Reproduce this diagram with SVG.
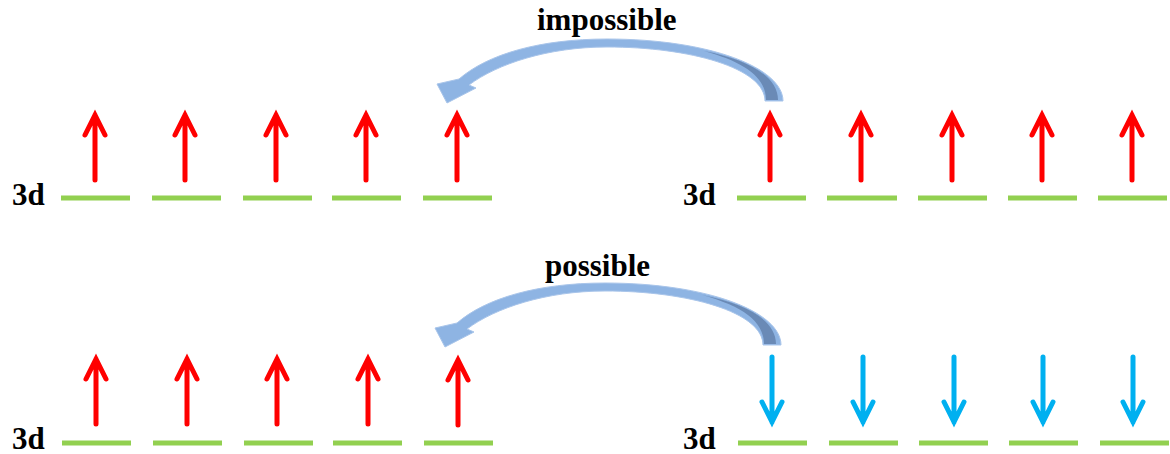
<svg xmlns="http://www.w3.org/2000/svg" xmlns:xlink="http://www.w3.org/1999/xlink" width="1170" height="454" viewBox="0 0 1170 454">
<style>
.lvl{stroke:#92D050;stroke-width:5;fill:none}
.up{stroke:#FF0000;stroke-width:5;fill:none;stroke-linecap:round;stroke-linejoin:miter}
.dn{stroke:#00B0F0;stroke-width:5;fill:none;stroke-linecap:round;stroke-linejoin:miter}
.lbl{font-family:"Liberation Serif","Times New Roman",serif;font-weight:bold;font-size:31px;fill:#000}
.cv{fill:#8EB4E3;stroke:#A9C5EA;stroke-width:1}
.cvd{fill:#6A8AB6}
</style>
<defs>
<path id="upA" d="M0,67 V2 M-10,22 L0,2 L10,22"/>
<path id="dnA" d="M0,0 V65 M-10,45 L0,65 L10,45"/>
<g id="curve">
<path class="cv" d="M783,101 C783,68 710,39 607,39 C540,39 488,54 459,79 L437,84 L447,103 L476,88 L469,85 C497,64 548,47 607,47 C690,47 765,68 765,101 Z"/>
<path class="cvd" d="M766,100 L778,100 C778,77 750,60 704,51 C744,62 766,77 766,100 Z"/>
</g>
</defs>

<g id="connectors">
<use xlink:href="#curve"/>
<use xlink:href="#curve" transform="translate(-2,244)"/>
</g>

<g id="label-impossible"><text class="lbl" x="537" y="30">impossible</text></g>
<g id="label-possible"><text class="lbl" x="545" y="276">possible</text></g>

<g id="label-3d-tl"><text class="lbl" x="12" y="205">3d</text></g>
<g id="label-3d-tr"><text class="lbl" x="683" y="205">3d</text></g>
<g id="label-3d-bl"><text class="lbl" x="12" y="449">3d</text></g>
<g id="label-3d-br"><text class="lbl" x="683" y="449">3d</text></g>

<!-- top left -->
<g id="tl1"><line class="lvl" x1="61" y1="198" x2="130" y2="198"/><use xlink:href="#upA" class="up" x="95" y="113"/></g>
<g id="tl2"><line class="lvl" x1="152" y1="198" x2="221" y2="198"/><use xlink:href="#upA" class="up" x="185" y="113"/></g>
<g id="tl3"><line class="lvl" x1="243" y1="198" x2="312" y2="198"/><use xlink:href="#upA" class="up" x="276" y="113"/></g>
<g id="tl4"><line class="lvl" x1="332" y1="198" x2="401" y2="198"/><use xlink:href="#upA" class="up" x="366" y="113"/></g>
<g id="tl5"><line class="lvl" x1="423" y1="198" x2="492" y2="198"/><use xlink:href="#upA" class="up" x="457" y="113"/></g>
<!-- top right -->
<g id="tr1"><line class="lvl" x1="737" y1="198" x2="806" y2="198"/><use xlink:href="#upA" class="up" x="770" y="113"/></g>
<g id="tr2"><line class="lvl" x1="827" y1="198" x2="897" y2="198"/><use xlink:href="#upA" class="up" x="861" y="113"/></g>
<g id="tr3"><line class="lvl" x1="918" y1="198" x2="987" y2="198"/><use xlink:href="#upA" class="up" x="952" y="113"/></g>
<g id="tr4"><line class="lvl" x1="1008" y1="198" x2="1077" y2="198"/><use xlink:href="#upA" class="up" x="1042" y="113"/></g>
<g id="tr5"><line class="lvl" x1="1098" y1="198" x2="1167" y2="198"/><use xlink:href="#upA" class="up" x="1132" y="113"/></g>
<!-- bottom left -->
<g id="bl1"><line class="lvl" x1="62" y1="443" x2="131" y2="443"/><use xlink:href="#upA" class="up" x="96" y="357"/></g>
<g id="bl2"><line class="lvl" x1="153" y1="443" x2="222" y2="443"/><use xlink:href="#upA" class="up" x="187" y="357"/></g>
<g id="bl3"><line class="lvl" x1="244" y1="443" x2="313" y2="443"/><use xlink:href="#upA" class="up" x="277" y="357"/></g>
<g id="bl4"><line class="lvl" x1="333" y1="443" x2="402" y2="443"/><use xlink:href="#upA" class="up" x="368" y="357"/></g>
<g id="bl5"><line class="lvl" x1="424" y1="443" x2="493" y2="443"/><use xlink:href="#upA" class="up" x="458" y="358"/></g>
<!-- bottom right -->
<g id="br1"><line class="lvl" x1="738" y1="443" x2="807" y2="443"/><use xlink:href="#dnA" class="dn" x="772" y="357"/></g>
<g id="br2"><line class="lvl" x1="829" y1="443" x2="898" y2="443"/><use xlink:href="#dnA" class="dn" x="863" y="357"/></g>
<g id="br3"><line class="lvl" x1="919" y1="443" x2="988" y2="443"/><use xlink:href="#dnA" class="dn" x="954" y="357"/></g>
<g id="br4"><line class="lvl" x1="1009" y1="443" x2="1078" y2="443"/><use xlink:href="#dnA" class="dn" x="1043" y="357"/></g>
<g id="br5"><line class="lvl" x1="1100" y1="443" x2="1169" y2="443"/><use xlink:href="#dnA" class="dn" x="1133" y="357"/></g>
</svg>
